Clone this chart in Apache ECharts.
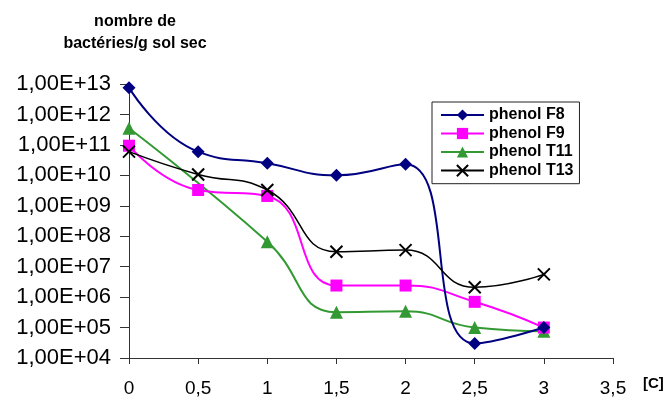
<!DOCTYPE html>
<html><head><meta charset="utf-8">
<script src="https://cdn.jsdelivr.net/npm/echarts@6/dist/echarts.min.js"></script>
<style>html,body{margin:0;padding:0;background:#fff}#c{width:667px;height:399px}</style>
</head><body><div id="c"></div>
<script>
const seriesNames = ['phenol F8', 'phenol F9', 'phenol T11', 'phenol T13'];
const xF8 = [0, 0.5, 1, 1.5, 2, 2.5, 3];
const yF8 = [7.6e12, 6e10, 2.5e10, 1e10, 2.3e10, 3e4, 1e5];
const xF9 = [0, 0.5, 1, 1.5, 2, 2.5, 3];
const yF9 = [9.4e10, 3.3e9, 2.1e9, 2.4e6, 2.4e6, 7e5, 1e5];
const xT11 = [0, 1, 1.5, 2, 2.5, 3];
const yT11 = [3.5e11, 6.6e7, 3.2e5, 3.4e5, 1e5, 7.6e4];
const xT13 = [0, 0.5, 1, 1.5, 2, 2.5, 3];
const yT13 = [6e10, 1.07e10, 3.3e9, 3.1e7, 3.5e7, 2.1e6, 5.6e6];
const yAxisTitle = 'nombre de\nbactéries/g sol sec';
const xAxisTitle = '[C]';

const pairs = (xs, ys) => xs.map((x, i) => [x, ys[i]]);
const font = 'Liberation Sans, Arial, sans-serif';
const chart = echarts.init(document.getElementById('c'));
chart.setOption({
  animation: false,
  textStyle: { fontFamily: font, color: '#000' },
  grid: { left: 129, right: 54, top: 84, bottom: 41 },
  legend: {
    orient: 'vertical', left: 432, top: 102,
    borderColor: '#222', borderWidth: 1,
    padding: [5, 6, 5, 8],
    itemWidth: 43, itemHeight: 14, itemGap: 2.5,
    textStyle: { fontFamily: font, fontWeight: 'bold', fontSize: 16, color: '#000', lineHeight: 16 },
    data: seriesNames
  },
  xAxis: {
    type: 'value', min: 0, max: 3.5, interval: 0.5,
    name: xAxisTitle, nameLocation: 'end', nameGap: 30,
    nameTextStyle: { fontFamily: font, fontWeight: 'bold', fontSize: 15, color: '#000', verticalAlign: 'top', padding: [18, 0, 0, 0] },
    axisLine: { lineStyle: { color: '#333', width: 1 } },
    axisTick: { show: true, length: 6, lineStyle: { color: '#333' } },
    axisLabel: { fontFamily: font, fontSize: 19, color: '#000', margin: 21, formatter: v => String(v).replace('.', ',') },
    splitLine: { show: false }
  },
  yAxis: {
    type: 'log', logBase: 10, min: 1e4, max: 1e13, interval: 1,
    name: yAxisTitle, nameLocation: 'end', nameGap: 29,
    nameTextStyle: { fontFamily: font, fontWeight: 'bold', fontSize: 16, color: '#000', align: 'center', lineHeight: 22, padding: [0, 0, 0, 12] },
    axisLine: { show: true, lineStyle: { color: '#333', width: 1 } },
    axisTick: { show: true, length: 9, lineStyle: { color: '#333' } },
    axisLabel: { fontFamily: font, fontSize: 22, color: '#000', margin: 18,
      formatter: v => { const e = Math.round(Math.log10(v)); return '1,00E+' + (e < 10 ? '0' + e : e); } },
    splitLine: { show: false }
  },
  series: [
    { name: seriesNames[0], type: 'line', smooth: 0.5, data: pairs(xF8, yF8),
      symbol: 'diamond', symbolSize: 13, z: 4,
      lineStyle: { color: '#000080', width: 2 }, itemStyle: { color: '#000080' } },
    { name: seriesNames[1], type: 'line', smooth: 0.5, data: pairs(xF9, yF9),
      symbol: 'rect', symbolSize: 12, z: 3,
      lineStyle: { color: '#FF00FF', width: 2 }, itemStyle: { color: '#FF00FF' } },
    { name: seriesNames[2], type: 'line', smooth: 0.5, data: pairs(xT11, yT11),
      symbol: 'triangle', symbolSize: 13, z: 2,
      lineStyle: { color: '#339933', width: 2 }, itemStyle: { color: '#339933' } },
    { name: seriesNames[3], type: 'line', smooth: 0.5, data: pairs(xT13, yT13),
      symbol: 'path://M0,0L10,10M10,0L0,10', symbolSize: 12, z: 5,
      lineStyle: { color: '#000', width: 1.5 }, itemStyle: { color: 'none', borderColor: '#000', borderWidth: 2 } }
  ]
});
</script></body></html>
